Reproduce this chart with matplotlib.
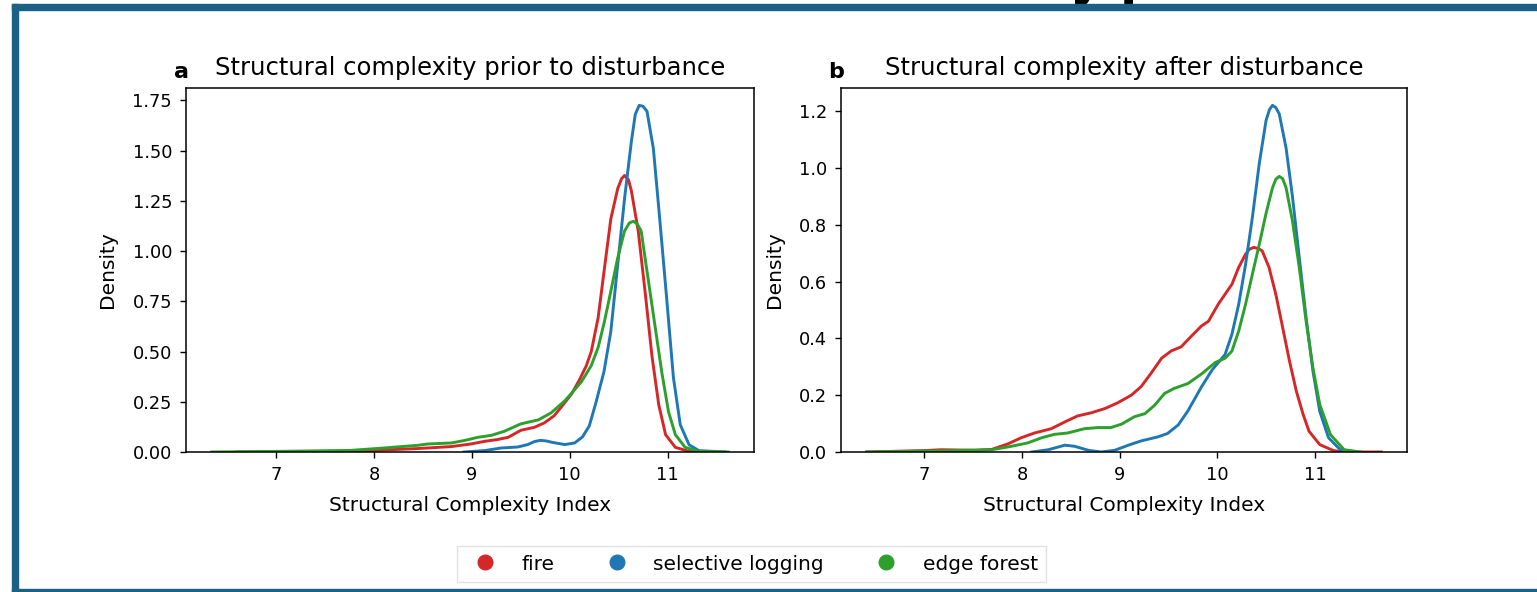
import matplotlib
matplotlib.use("Agg")
import matplotlib.pyplot as plt
from matplotlib.lines import Line2D
from matplotlib.patches import Rectangle

# KDE curves (x = Structural Complexity Index, y = density)
# panel a: prior to disturbance
a_fire_x = [6.60, 7.00, 7.76, 8.10, 8.44, 8.79, 8.99, 9.13, 9.26, 9.37, 9.50, 9.64, 9.74, 9.84,
            9.94, 10.02, 10.10, 10.17, 10.22, 10.29, 10.355, 10.42, 10.49, 10.53, 10.56, 10.60,
            10.63, 10.70, 10.77, 10.84, 10.91, 10.98, 11.08, 11.22, 11.40]
a_fire_y = [0.0, 0.002, 0.003, 0.010, 0.017, 0.027, 0.040, 0.053, 0.062, 0.073, 0.108, 0.123,
            0.145, 0.180, 0.240, 0.290, 0.360, 0.430, 0.500, 0.667, 0.915, 1.160, 1.310, 1.360,
            1.376, 1.355, 1.300, 1.100, 0.800, 0.480, 0.235, 0.086, 0.023, 0.003, 0.0]
a_log_x = [8.92, 9.13, 9.30, 9.47, 9.57, 9.64, 9.70, 9.76, 9.82, 9.95, 10.05, 10.13, 10.20,
           10.27, 10.35, 10.42, 10.49, 10.56, 10.63, 10.67, 10.71, 10.75, 10.79, 10.855, 10.92,
           10.99, 11.06, 11.13, 11.22, 11.32, 11.59]
a_log_y = [0.0, 0.007, 0.020, 0.025, 0.037, 0.052, 0.058, 0.055, 0.048, 0.037, 0.045, 0.075,
           0.130, 0.250, 0.400, 0.600, 0.930, 1.260, 1.545, 1.680, 1.725, 1.720, 1.695, 1.510,
           1.160, 0.770, 0.370, 0.136, 0.036, 0.007, 0.0]
a_edge_x = [6.34, 7.00, 7.76, 8.10, 8.44, 8.55, 8.79, 8.92, 9.06, 9.20, 9.33, 9.50, 9.68, 9.81,
            9.95, 10.05, 10.12, 10.22, 10.29, 10.355, 10.42, 10.49, 10.56, 10.61, 10.65, 10.69,
            10.73, 10.80, 10.87, 10.94, 11.01, 11.08, 11.18, 11.32, 11.62]
a_edge_y = [0.0, 0.003, 0.008, 0.020, 0.033, 0.040, 0.045, 0.057, 0.073, 0.083, 0.103, 0.140,
            0.160, 0.195, 0.255, 0.310, 0.350, 0.430, 0.520, 0.650, 0.800, 0.965, 1.100, 1.140,
            1.148, 1.135, 1.100, 0.866, 0.633, 0.400, 0.200, 0.086, 0.023, 0.003, 0.0]

# panel b: after disturbance
b_fire_x = [6.41, 7.00, 7.17, 7.52, 7.69, 7.86, 7.99, 8.13, 8.30, 8.44, 8.57, 8.71, 8.85, 8.98,
            9.12, 9.22, 9.32, 9.43, 9.53, 9.63, 9.73, 9.84, 9.91, 10.01, 10.08, 10.15, 10.22,
            10.29, 10.33, 10.375, 10.42, 10.46, 10.53, 10.60, 10.67, 10.74, 10.81, 10.88, 10.94,
            11.05, 11.19, 11.30, 11.68]
b_fire_y = [0.0, 0.005, 0.008, 0.006, 0.009, 0.029, 0.050, 0.067, 0.082, 0.106, 0.127, 0.138,
            0.153, 0.173, 0.200, 0.230, 0.276, 0.330, 0.356, 0.370, 0.406, 0.444, 0.460, 0.520,
            0.555, 0.590, 0.650, 0.696, 0.714, 0.720, 0.716, 0.708, 0.650, 0.555, 0.438, 0.320,
            0.214, 0.132, 0.073, 0.026, 0.005, 0.0, 0.0]
b_log_x = [8.10, 8.27, 8.44, 8.54, 8.68, 8.81, 8.95, 9.09, 9.22, 9.39, 9.49, 9.60, 9.70, 9.84,
           9.95, 10.08, 10.15, 10.22, 10.29, 10.36, 10.43, 10.50, 10.535, 10.566, 10.60, 10.635,
           10.705, 10.77, 10.84, 10.91, 10.98, 11.05, 11.14, 11.26, 11.43]
b_log_y = [0.0, 0.008, 0.024, 0.020, 0.006, 0.0, 0.006, 0.024, 0.039, 0.053, 0.065, 0.095,
           0.145, 0.230, 0.290, 0.343, 0.414, 0.520, 0.660, 0.826, 1.014, 1.167, 1.205, 1.220,
           1.212, 1.190, 1.070, 0.900, 0.685, 0.473, 0.285, 0.143, 0.050, 0.008, 0.0]
b_edge_x = [6.41, 7.00, 7.17, 7.69, 7.86, 8.06, 8.20, 8.33, 8.47, 8.64, 8.78, 8.91, 9.02, 9.15,
            9.26, 9.36, 9.46, 9.56, 9.70, 9.84, 9.98, 10.08, 10.15, 10.22, 10.29, 10.36, 10.43,
            10.50, 10.566, 10.60, 10.635, 10.67, 10.705, 10.77, 10.84, 10.91, 10.98, 11.05, 11.16,
            11.30, 11.47]
b_edge_y = [0.0, 0.003, 0.004, 0.008, 0.018, 0.032, 0.050, 0.062, 0.067, 0.082, 0.086, 0.086,
            0.098, 0.124, 0.135, 0.165, 0.206, 0.224, 0.241, 0.275, 0.315, 0.330, 0.355, 0.426,
            0.520, 0.626, 0.730, 0.840, 0.930, 0.960, 0.970, 0.962, 0.930, 0.814, 0.650, 0.461,
            0.296, 0.167, 0.061, 0.008, 0.0]

groups = ["fire", "selective logging", "edge forest"]
colors = ["#d62728", "#1f77b4", "#2ca02c"]
panels = [
    ("a", "Structural complexity prior to disturbance",
     [(a_fire_x, a_fire_y), (a_log_x, a_log_y), (a_edge_x, a_edge_y)],
     [0.00, 0.25, 0.50, 0.75, 1.00, 1.25, 1.50, 1.75], "{:.2f}"),
    ("b", "Structural complexity after disturbance",
     [(b_fire_x, b_fire_y), (b_log_x, b_log_y), (b_edge_x, b_edge_y)],
     [0.0, 0.2, 0.4, 0.6, 0.8, 1.0, 1.2], "{:.1f}"),
]
x_ticks = [7, 8, 9, 10, 11]

tick_fs = 12.8
label_fs = 14.5
fig = plt.figure(figsize=(15.37, 5.92), dpi=100)
W, H = 1537.0, 592.0
boxes = [[186 / W, 1 - 452 / H, 568 / W, 364 / H],
         [841 / W, 1 - 452 / H, 566 / W, 364 / H]]

for (letter, title, curves, yticks, fmt), box in zip(panels, boxes):
    ax = fig.add_axes(box)
    for (xs, ys), c in zip(curves, colors):
        ax.plot(xs, ys, color=c, lw=2.1, solid_joinstyle="round")
    ax.margins(x=0.05, y=0.05)
    ax.set_ylim(0, None)
    ax.set_xticks(x_ticks)
    ax.set_yticks(yticks)
    ax.set_yticklabels([fmt.format(v) for v in yticks])
    ax.tick_params(labelsize=tick_fs, length=4.5, width=1.0, pad=5.5)
    ax.set_xlabel("Structural Complexity Index", fontsize=label_fs, labelpad=9)
    ax.set_ylabel("Density", fontsize=label_fs, labelpad=11)
    ax.set_title(title, fontsize=17.5, pad=9)
    ax.text(-0.008, 1.028, letter, transform=ax.transAxes, ha="center", va="baseline",
            fontsize=16, fontweight="bold")
    for s in ax.spines.values():
        s.set_linewidth(1.1)

handles = [Line2D([], [], ls="none", marker="o", ms=10.5, color=c) for c in colors]
fig.legend(handles, groups, loc="center", bbox_to_anchor=(751.5 / W, 1 - 564 / H), ncol=3,
           fontsize=label_fs, frameon=True, fancybox=False, edgecolor="#d9d9d9",
           columnspacing=2.1, handletextpad=0.8, handlelength=2.0, borderpad=0.4)

# screenshot frame and the clipped heading above it
fig.text(1070 / W, 1 + 4 / H, "y p", fontsize=36, fontweight="bold", ha="left",
         va="baseline", color="black", zorder=1)
frame = "#1a6185"
fig.patches.append(Rectangle((12 / W, 1 - 10 / H), 1 - 12 / W, 6 / H, transform=fig.transFigure,
                             color=frame, zorder=5))
fig.patches.append(Rectangle((12 / W, 0), 6 / W, 1 - 4 / H, transform=fig.transFigure,
                             color=frame, zorder=5))
fig.patches.append(Rectangle((12 / W, 0), 1 - 12 / W, 3 / H, transform=fig.transFigure,
                             color=frame, zorder=5))

fig.savefig("out.png", dpi=100)
